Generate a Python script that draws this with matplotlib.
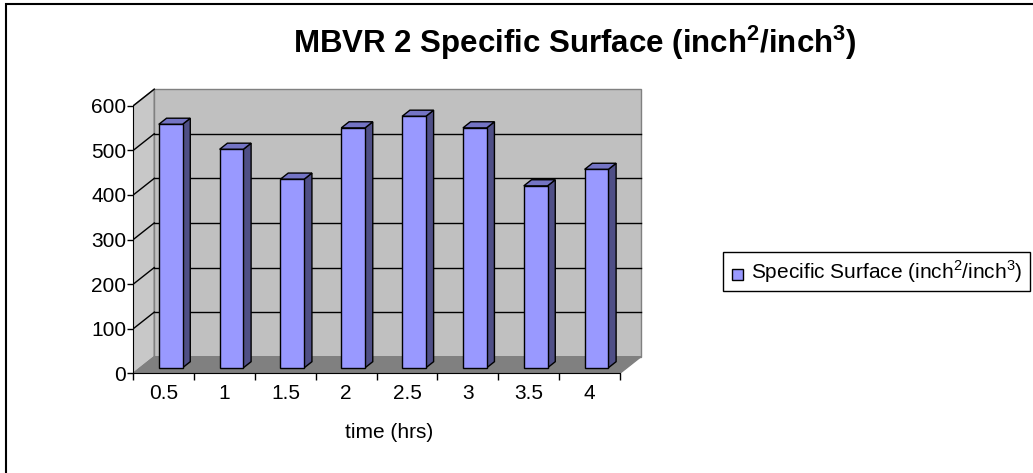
import numpy as np
import matplotlib.pyplot as plt
from matplotlib.patches import Polygon, Rectangle

plt.rcParams['font.family'] = ['Liberation Sans', 'DejaVu Sans']
plt.rcParams['mathtext.fontset'] = 'custom'
plt.rcParams['mathtext.rm'] = 'Liberation Sans'
plt.rcParams['mathtext.bf'] = 'Liberation Sans:bold'

# specific surface per sample time
times = ["0.5", "1", "1.5", "2", "2.5", "3", "3.5", "4"]
surface = [546, 490, 423, 538, 564, 538, 408, 445]
yticks = [0, 100, 200, 300, 400, 500, 600]

# pseudo-3d geometry (data units: one category = 1 in x)
DX, DY = 0.345, 37.2        # full depth offset of the walls
F0, F1 = 0.33, 0.70         # bar front/back as fraction of depth
BAR_W = 0.39
YMAX = 600
FS = 15

front_c = "#9999ff"
side_c = "#4f4f86"
top_c = "#7474c4"

fig = plt.figure(figsize=(10.33, 4.73), dpi=100)
ax = fig.add_axes([133.3 / 1033, (473 - 373.3) / 473, 511 / 1033, 285.4 / 473])
n = len(times)
ax.set_xlim(0, 8.4)
ax.set_ylim(0, 640)

# walls and floor
ax.add_patch(Polygon([(0, 0), (DX, DY), (DX, YMAX + DY), (0, YMAX)],
                     closed=True, fc="#c8c8c8", ec="#808080", lw=1, zorder=1))
ax.add_patch(Polygon([(DX, DY), (n + DX, DY), (n + DX, YMAX + DY), (DX, YMAX + DY)],
                     closed=True, fc="#c0c0c0", ec="#808080", lw=1, zorder=1))
ax.add_patch(Polygon([(0, 0), (n, 0), (n + DX, DY), (DX, DY)],
                     closed=True, fc="#808080", ec="#808080", lw=1, zorder=1))

# gridlines on back wall and left wall
for t in yticks[1:-1]:
    ax.plot([DX, n + DX], [t + DY, t + DY], color="black", lw=1, zorder=2)
for t in yticks[1:]:
    ax.plot([0, DX], [t, t + DY], color="black", lw=1, zorder=2)

# bars: side, top, then front face
for i, v in enumerate(surface):
    x0 = i + 0.5 - BAR_W / 2 + F0 * DX
    y0 = F0 * DY
    ddx = (F1 - F0) * DX
    ddy = (F1 - F0) * DY
    ax.add_patch(Polygon([(x0 + BAR_W, y0), (x0 + BAR_W + ddx, y0 + ddy),
                          (x0 + BAR_W + ddx, y0 + v + ddy), (x0 + BAR_W, y0 + v)],
                         closed=True, fc=side_c, ec="black", lw=1, zorder=3))
    ax.add_patch(Polygon([(x0, y0 + v), (x0 + BAR_W, y0 + v),
                          (x0 + BAR_W + ddx, y0 + v + ddy), (x0 + ddx, y0 + v + ddy)],
                         closed=True, fc=top_c, ec="black", lw=1, zorder=3))
    ax.add_patch(Rectangle((x0, y0), BAR_W, v, fc=front_c, ec="black", lw=1, zorder=4))

# axes lines
for s in ["top", "right"]:
    ax.spines[s].set_visible(False)
ax.spines["left"].set_bounds(0, YMAX)
ax.spines["bottom"].set_bounds(0, n)
ax.spines["left"].set_zorder(5)
ax.spines["bottom"].set_zorder(5)
ax.set_yticks(yticks)
ax.set_xticks(np.arange(n + 1))
ax.set_xticklabels([])
ax.set_xticks(np.arange(n) + 0.5, minor=True)
ax.set_xticklabels(times, minor=True)
ax.tick_params(axis="x", which="major", direction="out", length=5, width=1)
ax.tick_params(axis="x", which="minor", length=0, pad=8, labelsize=FS)
ax.tick_params(axis="y", direction="out", length=4, width=1, labelsize=FS, pad=1)
ax.set_xlabel("time (hrs)", fontsize=FS, labelpad=14)

fig.text(0.556, 0.91, r"MBVR 2 Specific Surface (inch$^\mathbf{2}$/inch$^\mathbf{3}$)",
         ha="center", va="center", fontsize=22.5, fontweight="bold")

# legend box
fig.add_artist(Rectangle((723 / 1033, 1 - 291 / 473), 307 / 1033, 39 / 473,
                         transform=fig.transFigure, fc="white", ec="black", lw=1))
fig.add_artist(Rectangle((732 / 1033, 1 - 280 / 473), 11 / 1033, 11 / 473,
                         transform=fig.transFigure, fc=front_c, ec="black", lw=1))
fig.text(751 / 1033, 1 - 272 / 473, r"Specific Surface (inch$^2$/inch$^3$)",
         ha="left", va="center", fontsize=FS)

# outer frame
fig.add_artist(Rectangle((6 / 1033, -0.1), 1.2, 1 - 4 / 473 + 0.1,
                         transform=fig.transFigure, fc="none", ec="black", lw=1.5))

fig.savefig("out.png", dpi=100)
